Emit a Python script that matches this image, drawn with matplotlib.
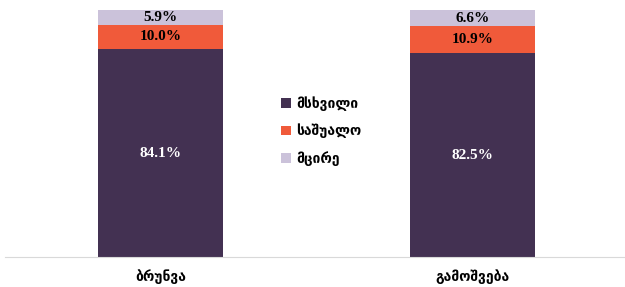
import numpy as np
import matplotlib.pyplot as plt

categories = ["ბრუნვა", "გამოშვება"]
series_names = ["მსხვილი", "საშუალო", "მცირე"]
large = [84.1, 82.5]
medium = [10.0, 10.9]
small = [5.9, 6.6]

colors = ["#433152", "#F05A3A", "#CBC2DA"]
label_colors = ["white", "black", "black"]
fam = ["Liberation Serif", "DejaVu Sans"]

fig = plt.figure(figsize=(6.25, 2.87), dpi=100)
ax = fig.add_axes([0.008, 0.105, 0.992, 0.86])

x = np.arange(len(categories))
bottom = np.zeros(len(categories))
for vals, name, c, lc in zip([large, medium, small], series_names, colors, label_colors):
    vals = np.array(vals)
    ax.bar(x, vals, 0.4, bottom=bottom, color=c, label=name)
    for xi, v, bt in zip(x, vals, bottom):
        ax.text(xi, bt + v / 2, f"{v:.1f}%", ha="center", va="center",
                color=lc, fontsize=11, fontweight="bold", family=fam)
    bottom += vals

ax.set_xlim(-0.5, 1.49)
ax.set_ylim(0, 100)
ax.set_yticks([])
ax.set_xticks(x)
ax.set_xticklabels(categories, fontsize=10, fontweight="bold", family=fam)
ax.tick_params(axis="x", length=0, pad=9)
for s in ["top", "right", "left"]:
    ax.spines[s].set_visible(False)
ax.spines["bottom"].set_color("#D9D9D9")

ax.legend(loc="center", bbox_to_anchor=(0.51, 0.51), frameon=False,
          handlelength=0.7, handleheight=0.7, handletextpad=0.4,
          labelspacing=0.9, prop={"family": fam, "size": 10, "weight": "bold"})

plt.savefig("out.png", dpi=100)
